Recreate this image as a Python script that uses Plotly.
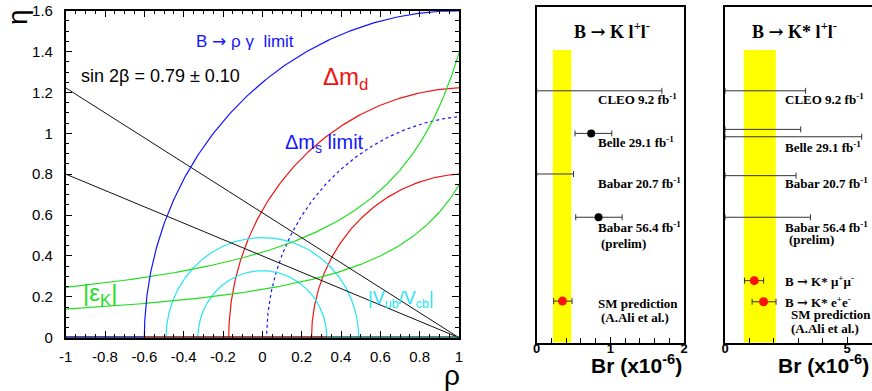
import numpy as np
import plotly.graph_objects as go

# ---------------- data: rho-eta plane ----------------
SIN2B, SIN2B_ERR = 0.79, 0.10
BRG_CIRCLE = (1.0, 1.6)                 # (center rho, radius)  B -> rho gamma limit
DMD_CIRCLES = [(1.053, 1.224), (1.053, 0.803)]   # Delta m_d band
DMS_CIRCLE = (1.11, 1.088)              # Delta m_s limit
VUB_RADII = [0.49, 0.328]               # |Vub/Vcb| circles around (0,0)
EPSK_HYP = [(0.597, 1.428), (0.345, 1.462)]      # eta = k / (rho0 - rho)
BASE_SEGMENTS = [(-1.0, -0.6, "#10107a"), (-0.6, 0.33, "#6a1010"), (0.33, 1.0, "#0c5c5c")]
RHO_TICKS = [-1, -0.8, -0.6, -0.4, -0.2, 0, 0.2, 0.4, 0.6, 0.8, 1]
RHO_TICK_LABELS = ["-1", "-0.8", "-0.6", "-0.4", "-0.2", "0", "0.2", "0.4", "0.6", "0.8", "1"]
ETA_TICKS = [0, 0.2, 0.4, 0.6, 0.8, 1, 1.2, 1.4, 1.6]
ETA_TICK_LABELS = ["0", "0.2", "0.4", "0.6", "0.8", "1", "1.2", "1.4", "1.6"]

ARROW_SANS = "<span style=\"font-family:'DejaVu Sans'\">→</span>"
ARROW_SERIF = "<span style=\"font-family:'DejaVu Serif'\">→</span>"

# ---------------- data: B -> K l+ l- ----------------
K_ROWS = ["CLEO 9.2 fb<sup>-1</sup>", "Belle 29.1 fb<sup>-1</sup>", "Babar 20.7 fb<sup>-1</sup>",
          "Babar 56.4 fb<sup>-1</sup>", "SM prediction"]
K_ROW_Y = [75.1, 62.4, 50.3, 37.4, 12.4]
K_UL = {"CLEO 9.2 fb<sup>-1</sup>": 1.70, "Babar 20.7 fb<sup>-1</sup>": 0.50}
K_MEAS = {"Belle 29.1 fb<sup>-1</sup>": (0.74, 0.52, 1.02),
          "Babar 56.4 fb<sup>-1</sup>": (0.84, 0.53, 1.16)}
K_SM = (0.35, 0.23, 0.48)
K_SM_BAND = (0.22, 0.47)

# ---------------- data: B -> K* l+ l- ----------------
KS_UL = [("CLEO 9.2 fb<sup>-1</sup>", 75.1, 3.30), ("Belle 29.1 fb<sup>-1</sup>", 63.6, 3.10),
         ("Belle 29.1 fb<sup>-1</sup>", 61.4, 5.60), ("Babar 20.7 fb<sup>-1</sup>", 49.8, 2.91),
         ("Babar 56.4 fb<sup>-1</sup>", 37.4, 3.50)]
KS_SM = [("B " + ARROW_SERIF + " K* μ<sup>+</sup>μ<sup>-</sup>", 18.5, 1.20, 0.80, 1.58),
         ("B " + ARROW_SERIF + " K* e<sup>+</sup>e<sup>-</sup>", 12.2, 1.58, 1.11, 2.09)]
KS_SM_BAND = (0.77, 2.08)

BLUE, RED, GREEN, CYAN = "#1414ff", "#f01414", "#22dd22", "#22e6f2"
SANS = "Liberation Sans"
SERIF = "Liberation Serif"

fig = go.Figure()

def arc(c, r, n=400):
    th = np.linspace(0, np.pi, n)
    return c + r * np.cos(th), r * np.sin(th)

def add_line(x, y, color, dash="solid", width=1.2, xa="x", ya="y"):
    fig.add_trace(go.Scatter(x=x, y=y, mode="lines", xaxis=xa, yaxis=ya,
                             line=dict(color=color, width=width, dash=dash),
                             hoverinfo="skip"))

# ---- left panel curves ----
rho = np.linspace(-1, 1, 400)
for c, r in DMD_CIRCLES:
    add_line(*arc(c, r), RED)
add_line(*arc(*DMS_CIRCLE), BLUE, dash="dot")
for r in VUB_RADII:
    add_line(*arc(0.0, r), CYAN)
for k, r0 in EPSK_HYP:
    add_line(rho, k / (r0 - rho), GREEN)
for s in (SIN2B + SIN2B_ERR, SIN2B - SIN2B_ERR):
    t = np.tan(0.5 * np.arcsin(s))
    add_line(rho, t * (1 - rho), "#111111", width=1.0)
add_line(*arc(*BRG_CIRCLE), BLUE)
for a, b, col in BASE_SEGMENTS:
    fig.add_trace(go.Scatter(x=[a, b], y=[0, 0], mode="lines", line=dict(color=col, width=3),
                             cliponaxis=False, hoverinfo="skip"))

# ---- middle panel ----
fig.add_shape(type="rect", xref="x2", yref="y2", x0=K_SM_BAND[0], x1=K_SM_BAND[1],
              y0=0, y1=87.3, fillcolor="#ffff00", line=dict(width=0), layer="below")
EB = dict(type="data", symmetric=False, color="#333333", thickness=1, width=3)
for name, y in zip(K_ROWS, K_ROW_Y):
    if name in K_UL:
        fig.add_trace(go.Scatter(x=[0], y=[y], xaxis="x2", yaxis="y2", mode="markers",
                                 marker=dict(size=1, opacity=0),
                                 error_x=dict(array=[K_UL[name]], arrayminus=[0], **EB)))
    elif name in K_MEAS:
        v, lo, hi = K_MEAS[name]
        fig.add_trace(go.Scatter(x=[v], y=[y], xaxis="x2", yaxis="y2", mode="markers",
                                 marker=dict(size=8, color="black"),
                                 error_x=dict(array=[hi - v], arrayminus=[v - lo], **EB)))
    else:
        v, lo, hi = K_SM
        fig.add_trace(go.Scatter(x=[v], y=[y], xaxis="x2", yaxis="y2", mode="markers",
                                 marker=dict(size=9, color="#ff1010"),
                                 error_x=dict(array=[hi - v], arrayminus=[v - lo], **EB)))

# ---- right panel ----
fig.add_shape(type="rect", xref="x3", yref="y3", x0=KS_SM_BAND[0], x1=KS_SM_BAND[1],
              y0=0, y1=87.3, fillcolor="#ffff00", line=dict(width=0), layer="below")
for name, y, ul in KS_UL:
    fig.add_trace(go.Scatter(x=[0], y=[y], xaxis="x3", yaxis="y3", mode="markers",
                             marker=dict(size=1, opacity=0),
                             error_x=dict(array=[ul], arrayminus=[0], **EB)))
for name, y, v, lo, hi in KS_SM:
    fig.add_trace(go.Scatter(x=[v], y=[y], xaxis="x3", yaxis="y3", mode="markers",
                             marker=dict(size=9, color="#ff1010"),
                             error_x=dict(array=[hi - v], arrayminus=[v - lo], **EB)))

# ---- annotations ----
ann = []
def A(text, x, y, xref, yref, size, color="black", family=SANS, bold=False, xanchor="left",
      yanchor="middle", angle=0):
    ann.append(dict(text=text, x=x, y=y, xref=xref, yref=yref, showarrow=False,
                    xanchor=xanchor, yanchor=yanchor, textangle=angle,
                    font=dict(family=family, size=size, color=color, weight=700 if bold else 400)))

A("B " + ARROW_SANS + " ρ γ  limit", -0.347, 1.452, "x", "y", 17, BLUE)
A("sin 2β = 0.79 ± 0.10", -0.93, 1.28, "x", "y", 18)
A("Δm<sub>d</sub>", 0.30, 1.27, "x", "y", 24, RED)
A("Δm<sub>s</sub> limit", 0.105, 0.95, "x", "y", 20, BLUE)
A("|ε<sub>K</sub>|", -0.92, 0.21, "x", "y", 24, GREEN)
A("|V<sub>ub</sub>/V<sub>cb</sub>|", 0.527, 0.185, "x", "y", 18, CYAN)
A("η", 18 / 872, 1 - 17 / 391, "paper", "paper", 28, xanchor="center", angle=-90)
A("ρ", 452 / 872, 1 - 375 / 391, "paper", "paper", 28, xanchor="center")

# K panel labels
K_LAB = [("CLEO 9.2 fb<sup>-1</sup>", 0.80, 72.7), ("Belle 29.1 fb<sup>-1</sup>", 0.80, 59.8),
         ("Babar 20.7 fb<sup>-1</sup>", 0.80, 47.6), ("Babar 56.4 fb<sup>-1</sup>", 0.80, 34.5),
         ("(prelim)", 0.85, 29.7), ("SM prediction", 0.80, 11.8), ("(A.Ali et al.)", 0.84, 7.4)]
for t, x, y in K_LAB:
    A(t, x, y, "x2", "y2", 13, family=SERIF, bold=True)
KS_LAB = [("CLEO 9.2 fb<sup>-1</sup>", 2.38, 72.6), ("Belle 29.1 fb<sup>-1</sup>", 2.38, 58.4),
          ("Babar 20.7 fb<sup>-1</sup>", 2.38, 47.5), ("Babar 56.4 fb<sup>-1</sup>", 2.38, 34.6),
          ("(prelim)", 2.54, 30.8), (KS_SM[0][0], 2.38, 18.5), (KS_SM[1][0], 2.38, 12.2),
          ("SM prediction", 2.62, 8.3), ("(A.Ali et al.)", 2.61, 4.3)]
for t, x, y in KS_LAB:
    A(t, x, y, "x3", "y3", 13, family=SERIF, bold=True)

A("B " + ARROW_SERIF + " K l<sup>+</sup>l<sup>-</sup>", 1.02, 93.2, "x2", "y2", 18, family=SERIF, bold=True, xanchor="center")
A("B " + ARROW_SERIF + " K* l<sup>+</sup>l<sup>-</sup>", 2.85, 93.2, "x3", "y3", 18, family=SERIF, bold=True, xanchor="center")
A("Br (x10<sup>-6</sup>)", 684 / 872, 1 - 364 / 391, "paper", "paper", 21, bold=True, xanchor="right")
A("Br (x10<sup>-6</sup>)", 871 / 872, 1 - 364 / 391, "paper", "paper", 21, bold=True, xanchor="right")

frame = dict(showline=True, linecolor="black", linewidth=1.5, mirror=True, showgrid=False,
             zeroline=False, automargin=False)
fig.update_layout(
    template="none",
    width=872, height=391, margin=dict(l=0, r=0, t=0, b=0, autoexpand=False),
    paper_bgcolor="white", plot_bgcolor="white", showlegend=False,
    annotations=ann,
    xaxis=dict(domain=[65.7 / 872, 459 / 872], range=[-1, 1],
               tickmode="array", tickvals=RHO_TICKS, ticktext=RHO_TICK_LABELS,
               ticks="inside", ticklen=7, tickcolor="black", **{**frame, "mirror": "ticks"},
               minor=dict(dtick=0.05, tick0=0, ticklen=4, ticks="inside", tickcolor="black"),
               tickfont=dict(family=SANS, size=15, color="black"), ticklabelstandoff=5),
    yaxis=dict(domain=[1 - 337.7 / 391, 1 - 10.7 / 391], range=[0, 1.6],
               tickmode="array", tickvals=ETA_TICKS, ticktext=ETA_TICK_LABELS,
               ticks="inside", ticklen=7, tickcolor="black", **{**frame, "mirror": "ticks"},
               minor=dict(dtick=0.05, tick0=0, ticklen=4, ticks="inside", tickcolor="black"),
               tickfont=dict(family=SANS, size=15, color="black"), ticklabelstandoff=8),
    xaxis2=dict(domain=[536.7 / 872, 684 / 872], range=[0, 2], dtick=1, tick0=0, anchor="y2",
                ticks="inside", ticklen=6, tickcolor="black", **frame,
                minor=dict(dtick=0.2, ticklen=5, ticks="inside", tickcolor="black"),
                tickfont=dict(family=SANS, size=13, color="black", weight=700), ticklabelstandoff=-7),
    yaxis2=dict(domain=[1 - 342.7 / 391, 1 - 7.3 / 391], range=[0, 100], anchor="x2",
                showticklabels=False, ticks="", **frame),
    xaxis3=dict(domain=[725 / 872, 871.5 / 872], range=[0, 6], dtick=5, tick0=0, anchor="y3",
                ticks="inside", ticklen=6, tickcolor="black", **frame,
                minor=dict(dtick=1, ticklen=5, ticks="inside", tickcolor="black"),
                tickfont=dict(family=SANS, size=13, color="black", weight=700), ticklabelstandoff=-7),
    yaxis3=dict(domain=[1 - 342.7 / 391, 1 - 7.3 / 391], range=[0, 100], anchor="x3",
                showticklabels=False, ticks="", **frame),
)

fig.write_html("out.html", config={"displayModeBar": False},
               post_script="document.body.style.margin='0px';document.body.style.overflow='hidden';")
